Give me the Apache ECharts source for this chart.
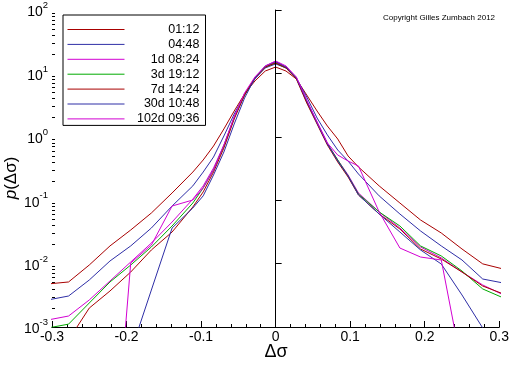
<!DOCTYPE html>
<html><head><meta charset="utf-8">
<script src="https://cdn.jsdelivr.net/npm/echarts@6/dist/echarts.min.js"></script>
<style>html,body{margin:0;padding:0;background:#fff}#c{width:512px;height:366px}</style>
</head><body><div id="c"></div>
<script>
// bin centres of Δσ
const xValues = [-0.3056, -0.2778, -0.25, -0.2222, -0.1944, -0.1667, -0.1389, -0.1111, -0.0972, -0.0833, -0.0694, -0.0556, -0.0417, -0.0278, -0.0139, 0,
  0.0139, 0.0278, 0.0417, 0.0556, 0.0694, 0.0833, 0.0972, 0.1111, 0.1389, 0.1667, 0.1944, 0.2222, 0.25, 0.2778, 0.3056];
const seriesNames = ['01:12', '04:48', '1d 08:24', '3d 19:12', '7d 14:24', '30d 10:48', '102d 09:36'];
const p0112 = [0.00477, 0.00513, 0.0095, 0.0190, 0.0339, 0.0628, 0.130, 0.278, 0.431, 0.716, 1.33, 2.55, 4.73, 7.59, 10.9, 12.6, 10.9, 8.16, 4.56, 2.55, 1.48, 0.923, 0.498, 0.334, 0.168, 0.0903, 0.0487, 0.0304, 0.0170, 0.0099, 0.0082];
const p0448 = [0.00267, 0.00308, 0.00551, 0.0110, 0.0190, 0.0364, 0.0810, 0.168, 0.278, 0.480, 1.03, 2.29, 4.56, 8.16, 12.2, 14.1, 12.2, 8.46, 4.24, 1.98, 1.07, 0.619, 0.415, 0.259, 0.117, 0.0606, 0.0327, 0.0190, 0.0114, 0.00571, 0.00494];
const p1d = [0.00129, 0.00149, 0.00267, 0.00532, 0.0106, 0.0211, 0.0453, 0.104, 0.168, 0.322, 0.742, 2.05, 4.73, 8.46, 12.6, 15.1, 12.6, 8.46, 3.67, 1.71, 0.798, 0.431, 0.250, 0.130, 0.0652, 0.0364, 0.0183, 0.0123, 0.00737, 0.0046, 0.0032];
const p3d = [0.000964, 0.00111, 0.00239, 0.00513, 0.0095, 0.0183, 0.0392, 0.0903, 0.156, 0.299, 0.716, 1.98, 4.56, 8.46, 12.6, 14.6, 12.2, 8.46, 3.54, 1.65, 0.770, 0.431, 0.241, 0.125, 0.0652, 0.0392, 0.0190, 0.0132, 0.00764, 0.00398, 0.00287];
const p7d = [0.00052, 0.000624, 0.00199, 0.0037, 0.00737, 0.0164, 0.0315, 0.0781, 0.135, 0.278, 0.666, 1.91, 4.56, 8.46, 12.6, 14.6, 12.2, 8.16, 3.41, 1.59, 0.742, 0.400, 0.232, 0.121, 0.0606, 0.0351, 0.0170, 0.0118, 0.00737, 0.00443, 0.00332];
const p30d = [0.00001, 0.00001, 0.00001, 0.00004, 0.000403, 0.00383, 0.0364, 0.0753, 0.117, 0.250, 0.576, 1.59, 4.09, 8.46, 13.1, 15.4, 12.6, 8.46, 3.67, 1.65, 0.770, 0.415, 0.241, 0.121, 0.0606, 0.0315, 0.0164, 0.00986, 0.0032, 0.000964, 0.000302];
const p102d = [0.000001, 0.000001, 0.000001, 0.000001, 0.0102, 0.0196, 0.0810, 0.1007, 0.156, 0.299, 0.742, 2.05, 4.91, 8.78, 13.1, 15.7, 13.1, 8.78, 3.81, 1.71, 0.798, 0.516, 0.415, 0.346, 0.0652, 0.0176, 0.0127, 0.0114, 0.000231, 0.000001, 0.000001];
const xTickLabels = ['-0.3', '-0.2', '-0.1', '0', '0.1', '0.2', '0.3'];
const yDecades = [0.001, 0.01, 0.1, 1, 10, 100];
const yMinorMultipliers = [2, 3, 4, 5, 6, 7, 8, 9];

const colors = ['#a80000', '#2e2ea6', '#d200d2', '#00aa00', '#a80000', '#2e2ea6', '#d200d2'];
const allData = [p0112, p0448, p1d, p3d, p7d, p30d, p102d];
const FONT = 'Liberation Sans';

// minor tick positions, in log10 space for the helper axis
const minorLog = [];
yDecades.slice(0, -1).forEach(d => yMinorMultipliers.forEach(m => minorLog.push(Math.log10(d * m))));

const series = allData.map((arr, i) => ({
  name: seriesNames[i],
  type: 'line',
  symbol: 'none',
  clip: true,
  silent: true,
  animation: false,
  lineStyle: { color: colors[i], width: 1 },
  itemStyle: { color: colors[i] },
  data: arr.map((v, k) => [xValues[k], v])
}));
series[0].markLine = {
  silent: true, symbol: 'none', animation: false,
  label: { show: false },
  lineStyle: { color: '#000', width: 1, type: 'solid' },
  data: [{ xAxis: 0 }]
};

const chart = echarts.init(document.getElementById('c'), null, { renderer: 'canvas' });
chart.setOption({
  animation: false,
  backgroundColor: '#fff',
  textStyle: { fontFamily: FONT },
  grid: { left: 52, right: 12, top: 10, bottom: 39, containLabel: false },
  legend: {
    data: seriesNames,
    orient: 'vertical',
    left: 63, top: 15,
    padding: [8, 6, 0, 4],
    itemWidth: 57, itemHeight: 11, itemGap: 1.9,
    borderColor: '#000', borderWidth: 1, borderRadius: 0,
    backgroundColor: '#fff',
    selectedMode: false,
    itemStyle: { opacity: 0, borderWidth: 0 },
    lineStyle: { width: 1 },
    formatter: n => '{a|' + n + '}',
    textStyle: { color: '#000', fontFamily: FONT, fontSize: 12.5, lineHeight: 11,
      rich: { a: { width: 70, align: 'right', fontSize: 12.5, lineHeight: 11, fontFamily: FONT, color: '#000' } } }
  },
  xAxis: {
    type: 'value', min: -0.3, max: 0.3, interval: 0.1,
    axisLine: { show: true, onZero: false, lineStyle: { color: '#000', width: 1 } },
    axisTick: { show: true, inside: true, length: 6, lineStyle: { color: '#000' } },
    minorTick: { show: true, splitNumber: 5, length: 3, lineStyle: { color: '#000' } },
    splitLine: { show: false },
    axisLabel: {
      color: '#000', fontFamily: FONT, fontSize: 14, margin: 3,
      formatter: v => xTickLabels[Math.round((v + 0.3) * 10)]
    }
  },
  yAxis: [{
    type: 'log', logBase: 10, min: 0.001, max: 100,
    axisLine: { show: true, lineStyle: { color: '#000', width: 1 } },
    axisTick: { show: true, inside: true, length: 6, lineStyle: { color: '#000' } },
    splitLine: { show: false },
    axisLabel: {
      margin: 4,
      formatter: v => '{b|10}{s|' + Math.round(Math.log10(v)) + '}',
      rich: {
        b: { fontSize: 14, fontFamily: FONT, color: '#000', lineHeight: 19, verticalAlign: 'bottom' },
        s: { fontSize: 9.5, fontFamily: FONT, color: '#000', lineHeight: 19, verticalAlign: 'top' }
      }
    }
  }, {
    type: 'value', min: -3, max: 2, position: 'left',
    axisLine: { show: false },
    axisLabel: { show: false },
    splitLine: { show: false },
    axisTick: { show: true, inside: true, length: 3, customValues: minorLog, lineStyle: { color: '#000' } }
  }],
  graphic: [
    { type: 'text', left: 383, top: 14, silent: true,
      style: { text: 'Copyright Gilles Zumbach 2012', fontSize: 8, fontFamily: FONT, fill: '#000' } },
    { type: 'text', x: 11, y: 178, rotation: Math.PI / 2, silent: true,
      style: { text: '{i|p}(Δσ)', align: 'center', verticalAlign: 'middle', fontSize: 17, fontFamily: FONT, fill: '#000',
        rich: { i: { fontStyle: 'italic', fontSize: 17, fontFamily: FONT, fill: '#000' } } } },
    { type: 'text', x: 276, y: 352, silent: true,
      style: { text: 'Δσ', align: 'center', verticalAlign: 'middle', fontSize: 18, fontFamily: FONT, fill: '#000' } }
  ],
  series: series
});
</script></body></html>
